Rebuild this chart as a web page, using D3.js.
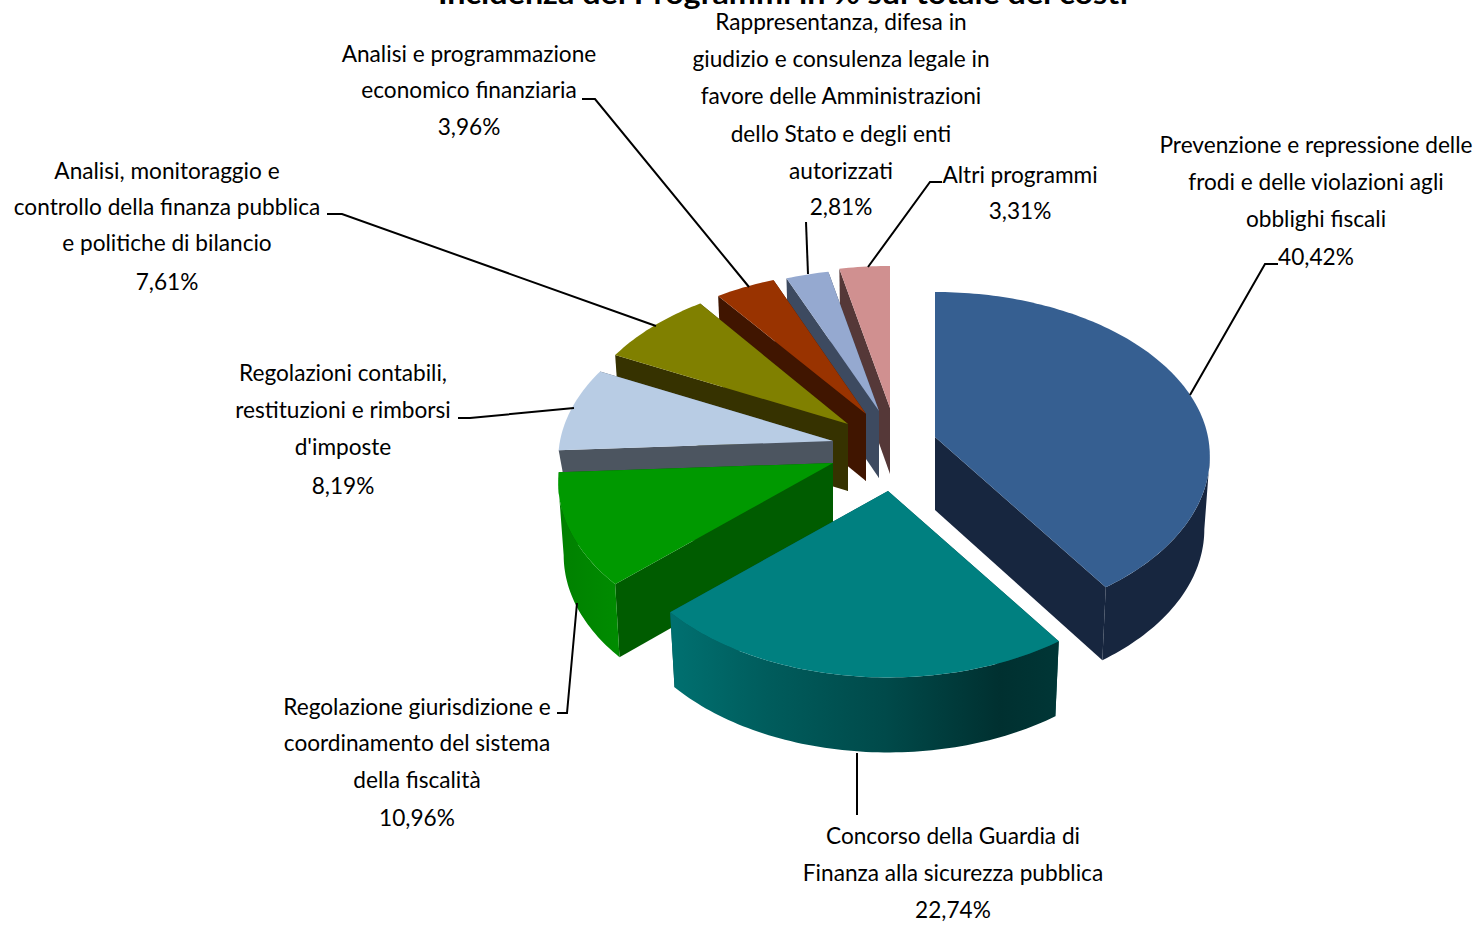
<!DOCTYPE html>
<html>
<head>
<meta charset="utf-8">
<title>Incidenza dei Programmi</title>
<script src="https://cdnjs.cloudflare.com/ajax/libs/d3/7.8.5/d3.min.js"></script>
<style>
  html, body { margin: 0; background: #fff; overflow: hidden; }
  text { font-family: Lato, "Liberation Sans", sans-serif; fill: #000; }
</style>
</head>
<body>
<div id="chart"></div>
<script>
// values in % of the total costs, clockwise from 12 o'clock
const values = [40.42, 22.74, 10.96, 8.19, 7.61, 3.96, 2.81, 3.31];
const labels = [
    ["Prevenzione e repressione delle", "frodi e delle violazioni agli", "obblighi fiscali"],
    ["Concorso della Guardia di", "Finanza alla sicurezza pubblica"],
    ["Regolazione giurisdizione e", "coordinamento del sistema", "della fiscalità"],
    ["Regolazioni contabili,", "restituzioni e rimborsi", "d'imposte"],
    ["Analisi, monitoraggio  e", "controllo della finanza pubblica", "e politiche di bilancio"],
    ["Analisi e programmazione", "economico finanziaria"],
    ["Rappresentanza, difesa in", "giudizio e consulenza legale in", "favore delle Amministrazioni", "dello Stato e degli enti", "autorizzati"],
    ["Altri programmi"]
];
const titleText = "Incidenza dei Programmi in % sul totale dei costi";

const topColors = ["#365f91", "#008080", "#009900", "#b8cce4", "#808000", "#993300", "#95a9d0", "#d09090"];
const edgeColors = ["#17263f", "#004c4c", "#005c00", "#4c5560", "#363200", "#401500", "#3d4a60", "#553838"];

// layout of the exploded slices
const width = 1481, height = 925;
const apexes = [[935, 437], [888, 491], [833, 463], [833, 441], [848, 424], [866, 414], [879, 411], [890, 408]];
const backScale = [0.98, 1, 1, 1, 0.99, 0.97, 0.96, 0.96];
const depths = [73, 75, 73, 30, 67, 67, 67, 66];
const radiusX = 273, radiusY = 165, tilt = 0.115, foot = 0.98;

// label layout
const labelX = [1316, 953, 417, 343, 167, 469, 841, 1020];
const labelY = [
    [145, 182, 219, 257], [836, 873, 910], [707, 743, 780, 818], [373, 410, 447, 486],
    [171, 207, 243, 282], [54, 90, 127], [22, 59, 96, 134, 171, 207], [175, 211]
];
const labelSize = 24, labelRefWidth = 313;
const leaders = [
    [[1278, 264], [1265, 264], [1190, 395]],
    [[857, 753], [857, 815]],
    [[557, 713], [567, 713], [577, 603]],
    [[458, 418], [470, 418], [574, 408]],
    [[327, 214], [342, 214], [656, 326]],
    [[582, 99], [595, 99], [749, 287]],
    [[806, 222], [808, 274]],
    [[942, 182], [930, 182], [868, 267]]
];

const svg = d3.select("#chart").append("svg")
    .attr("width", width)
    .attr("height", height);

// teal wall has the visible light to dark shading
let defs = svg.append("defs");
let tealGrad = defs.append("linearGradient")
    .attr("id", "tealWall")
    .attr("gradientUnits", "userSpaceOnUse")
    .attr("x1", 672).attr("x2", 1058).attr("y1", 0).attr("y2", 0);
[[0, "#007070"], [0.25, "#005c5c"], [0.55, "#004a4a"], [0.85, "#003030"], [1, "#003636"]].forEach(function (s) {
    tealGrad.append("stop").attr("offset", s[0]).attr("stop-color", s[1]);
});
let greenGrad = defs.append("linearGradient")
    .attr("id", "greenWall")
    .attr("gradientUnits", "userSpaceOnUse")
    .attr("x1", 558).attr("x2", 620).attr("y1", 0).attr("y2", 0);
[[0, "#008000"], [1, "#008c00"]].forEach(function (s) {
    greenGrad.append("stop").attr("offset", s[0]).attr("stop-color", s[1]);
});
const wallFill = ["#17263f", "url(#tealWall)", "url(#greenWall)", "#4c5560", "#363200", "#401500", "#3d4a60", "#553838"];

const arcs = d3.pie().sort(null)(values);

// perspective projection of a point on the rim: r is 0 at the apex and 1 on the rim
function project(i, angle, r, down) {
    let s = Math.sin(angle) * r, c = Math.cos(angle) * r;
    let w = 1 + tilt * c;
    let k = c > 0 ? backScale[i] : 1;
    let px = radiusX * s / w, py = -radiusY * k * c / w;
    if (down) {
        return [apexes[i][0] + px * foot, apexes[i][1] + py + depths[i]];
    }
    return [apexes[i][0] + px, apexes[i][1] + py];
}

function rim(i, a0, a1, down) {
    let n = Math.max(2, Math.ceil((a1 - a0) / 0.02));
    return d3.range(n + 1).map(function (k) {
        return project(i, a0 + (a1 - a0) * k / n, 1, down);
    });
}

const line = d3.line();
// the rim wall only shows on the front side of the perspective ellipse
const frontFrom = Math.PI - Math.acos(tilt), frontTo = Math.PI + Math.acos(tilt);

// back slices first, the nearer ones paint over them
let paintOrder = [0, 7, 6, 5, 4, 3, 2, 1];

paintOrder.forEach(function (i) {
    let d = arcs[i];
    let g = svg.append("g").attr("class", "slice");
    let a0 = d.startAngle, a1 = d.endAngle;

    [a1, a0].forEach(function (a) {
        let wall = [project(i, a, 0, false), project(i, a, 1, false), project(i, a, 1, true), project(i, a, 0, true)];
        g.append("path")
            .attr("d", line(wall) + "Z")
            .attr("fill", edgeColors[i]);
    });

    let f0 = Math.max(a0, frontFrom), f1 = Math.min(a1, frontTo);
    if (f1 > f0) {
        let pts = rim(i, f0, f1, false).concat(rim(i, f0, f1, true).reverse());
        g.append("path")
            .attr("d", line(pts) + "Z")
            .attr("fill", wallFill[i]);
    }

    let face = [project(i, a0, 0, false)].concat(rim(i, a0, a1, false));
    g.append("path")
        .attr("d", line(face) + "Z")
        .attr("fill", topColors[i]);
});

// leader lines
svg.selectAll(".leader")
    .data(leaders)
    .enter()
    .append("path")
    .attr("class", "leader")
    .attr("d", d => line(d))
    .attr("fill", "none")
    .attr("stroke", "#000")
    .attr("stroke-width", 2);

// labels, percentage on the last line with a decimal comma
const fmt = d3.format(".2f");
let squeeze = 1;
values.forEach(function (v, i) {
    let rows = labels[i].concat([fmt(v).replace(".", ",") + "%"]);
    rows.forEach(function (t, j) {
        let txt = svg.append("text")
            .attr("class", "label")
            .attr("x", labelX[i])
            .attr("y", labelY[i][j])
            .attr("dy", "0.35em")
            .attr("text-anchor", "middle")
            .attr("font-size", labelSize)
            .text(t);
        let w = txt.node().getComputedTextLength();
        // the first label line sets how much the font is squeezed to the reference's width
        if (i === 0 && j === 0) squeeze = labelRefWidth / w;
        txt.attr("textLength", w * squeeze).attr("lengthAdjust", "spacingAndGlyphs");
    });
});

// title is cut by the top of the picture
svg.append("text")
    .attr("x", 783)
    .attr("y", 4)
    .attr("text-anchor", "middle")
    .attr("font-size", 29)
    .attr("font-weight", "bold")
    .attr("textLength", 690)
    .attr("lengthAdjust", "spacingAndGlyphs")
    .text(titleText);
</script>
</body>
</html>
